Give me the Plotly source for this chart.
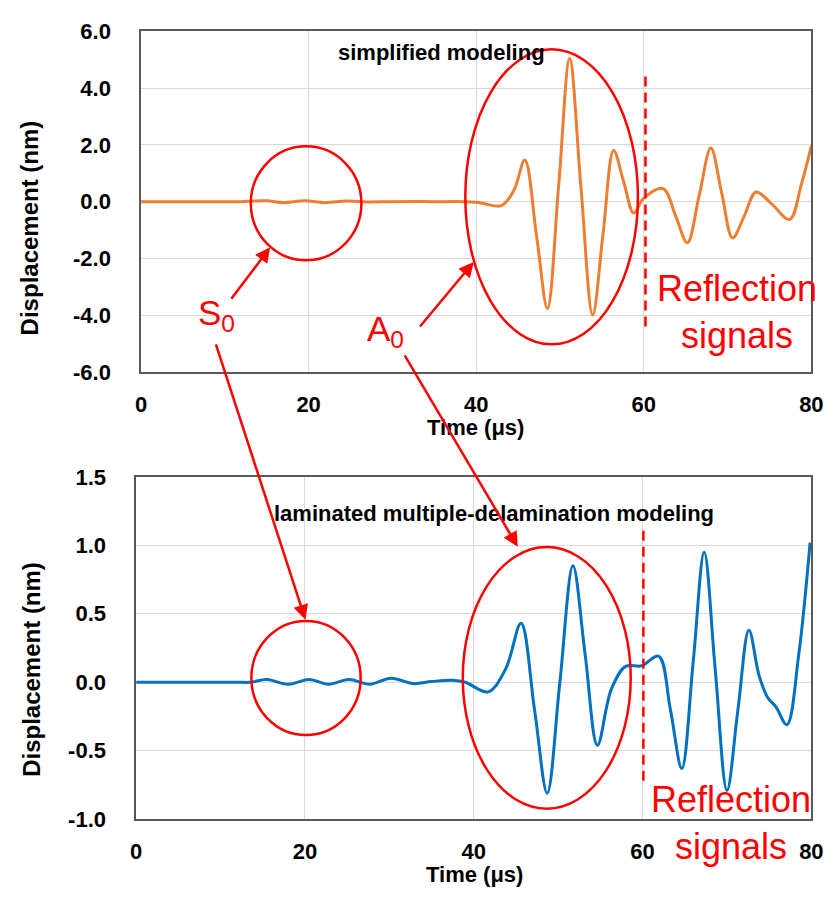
import plotly.graph_objects as go

# ---------------- data ----------------
time_simplified = [0, 12, 15, 17, 19.5, 22, 24.5, 27, 30, 35, 40, 43.0, 44.5, 45.8, 47.2, 48.5,
                   49.85, 51.15, 52.5, 53.9, 55.15, 56.4, 57.6, 58.8, 60.0, 62.3, 63.8, 65.2,
                   66.6, 68.0, 69.3, 70.6, 72.0, 73.4, 75.2, 77.4, 78.8, 80]
disp_simplified = [0, 0, 0.03, -0.03, 0.03, -0.03, 0.02, -0.01, 0, 0, -0.02, -0.14, 0.4, 1.47, -1.2, -3.77,
                   0.6, 5.05, 0.5, -4.0, -1.1, 1.8, 0.7, -0.4, 0.12, 0.46, -0.5, -1.45,
                   0.2, 1.89, 0.3, -1.28, -0.5, 0.34, -0.06, -0.63, 0.6, 1.98]

time_laminated = [0, 12, 13.5, 15.5, 18, 20.5, 22.8, 25.2, 27.7, 30.2, 32.8, 35, 37.5, 39, 41.7,
                  43.8, 45.6, 47.2, 48.7, 50.2, 51.75, 53.2, 54.65, 56.3, 58.0, 59.9, 61.9, 63.3,
                  64.65, 66.0, 67.3, 68.6, 70.0, 71.3, 72.6, 73.8, 74.8, 75.8, 77.1, 78.5, 79.85]
disp_laminated = [0, 0, 0.0, 0.02, -0.015, 0.02, -0.015, 0.02, -0.015, 0.03, -0.01, 0.005, 0.015, 0.0, -0.07,
                  0.1, 0.43, -0.2, -0.81, 0.0, 0.85, 0.2, -0.46, -0.05, 0.116, 0.12, 0.19, -0.2,
                  -0.63, 0.15, 0.95, 0.1, -0.79, -0.2, 0.38, 0.05, -0.11, -0.18, -0.31, 0.2, 1.02]

x_ticks = [0, 20, 40, 60, 80]
x_ticktext = ["0", "20", "40", "60", "80"]
y1_ticks = [-6, -4, -2, 0, 2, 4, 6]
y1_ticktext = ["-6.0", "-4.0", "-2.0", "0.0", "2.0", "4.0", "6.0"]
y2_ticks = [-1.0, -0.5, 0.0, 0.5, 1.0, 1.5]
y2_ticktext = ["-1.0", "-0.5", "0.0", "0.5", "1.0", "1.5"]

top_title = "simplified modeling"
bottom_title = "laminated multiple-delamination modeling"
y_title = "Displacement (nm)"
x_title = "Time (μs)"

# ---------------- layout helpers ----------------
W, H = 840, 909
FONT = "Liberation Sans, Arial, sans-serif"
RED = "#FF0000"


def px(x):
    return x / W


def py(y):
    return 1 - y / H


fig = go.Figure()
fig.add_trace(go.Scatter(x=time_simplified, y=disp_simplified, mode="lines",
                         line=dict(color="#ED7D31", width=3, shape="spline", smoothing=1.0),
                         xaxis="x", yaxis="y", hoverinfo="skip"))
fig.add_trace(go.Scatter(x=time_laminated, y=disp_laminated, mode="lines",
                         line=dict(color="#0070C0", width=3, shape="spline", smoothing=1.0),
                         xaxis="x2", yaxis="y2", hoverinfo="skip"))

axis_common = dict(showgrid=True, gridcolor="#D9D9D9", gridwidth=1, zeroline=False,
                   showline=True, mirror=True, linecolor="#595959", linewidth=1.5,
                   ticks="", tickfont=dict(family=FONT, size=22, color="#000000", weight="bold"))

fig.update_layout(
    width=W, height=H, margin=dict(l=0, r=0, t=0, b=0),
    paper_bgcolor="white", plot_bgcolor="white", showlegend=False,
    xaxis=dict(domain=[px(138), px(823)], range=[0, 80], anchor="y",
               tickvals=x_ticks, ticktext=x_ticktext, ticklabelstandoff=12, **axis_common),
    yaxis=dict(domain=[py(370), py(20)], range=[-6, 6], anchor="x",
               tickvals=y1_ticks, ticktext=y1_ticktext, ticklabelstandoff=24, **axis_common),
    xaxis2=dict(domain=[px(133), px(823)], range=[0, 80], anchor="y2",
                tickvals=x_ticks, ticktext=x_ticktext, ticklabelstandoff=12, **axis_common),
    yaxis2=dict(domain=[py(830), py(478)], range=[-1, 1.5], anchor="x2",
                tickvals=y2_ticks, ticktext=y2_ticktext, ticklabelstandoff=24, **axis_common),
)

# ---------------- shapes: ellipses and dashed lines ----------------
ell = dict(type="circle", line=dict(color=RED, width=2.5), fillcolor="rgba(0,0,0,0)", layer="above")
fig.add_shape(xref="x", yref="y", x0=13.1, x1=26.3, y0=-2.07, y1=1.95, **ell)
fig.add_shape(xref="x", yref="y", x0=38.7, x1=59.3, y0=-5.03, y1=5.37, **ell)
fig.add_shape(xref="x2", yref="y2", x0=13.65, x1=26.6, y0=-0.386, y1=0.447, **ell)
fig.add_shape(xref="x2", yref="y2", x0=38.7, x1=58.6, y0=-0.923, y1=0.987, **ell)

dl = dict(type="line", line=dict(color=RED, width=2.5, dash="10px,6px"), layer="above")
fig.add_shape(xref="x", yref="y", x0=60.2, x1=60.2, y0=-4.4, y1=4.46, **dl)
fig.add_shape(xref="x2", yref="y2", x0=60.1, x1=60.1, y0=-0.72, y1=1.13, **dl)

# ---------------- text annotations ----------------
bold = lambda s: dict(family=FONT, size=s, color="#000000", weight="bold")
red = lambda s: dict(family=FONT, size=s, color=RED)

ann = []
ann.append(dict(text=top_title, x=px(445), y=py(42), font=bold(22)))
ann.append(dict(text=bottom_title, x=px(499), y=py(516), font=bold(22)))
ann.append(dict(text=y_title, x=px(24), y=py(222), textangle=-90, font=bold(24)))
ann.append(dict(text=y_title, x=px(26), y=py(676), textangle=-90, font=bold(24)))
ann.append(dict(text=x_title, x=px(480), y=py(427), font=bold(22)))
ann.append(dict(text=x_title, x=px(479), y=py(887), font=bold(22)))
ann.append(dict(text="S<sub>0</sub>", x=px(215), y=py(312), font=red(35)))
ann.append(dict(text="A<sub>0</sub>", x=px(388), y=py(328), font=red(35)))
ann.append(dict(text="Reflection<br>signals", x=px(747), y=py(308), font=red(36), align="center"))
ann.append(dict(text="Reflection<br>signals", x=px(741), y=py(834), font=red(36), align="center"))
for a in ann:
    fig.add_annotation(xref="paper", yref="paper", showarrow=False,
                       xanchor="center", yanchor="middle", **a)

# arrows: (head_x, head_y, tail_x, tail_y) in page pixels
arrows = [(270, 242, 230, 295), (478, 257, 423, 323), (306, 625, 216, 348), (523, 550, 409, 357)]
for hx, hy, tx, ty in arrows:
    fig.add_annotation(xref="paper", yref="paper", x=px(hx), y=py(hy), ax=tx - hx, ay=ty - hy,
                       axref="pixel", ayref="pixel", text="", showarrow=True,
                       arrowhead=2, arrowsize=1.2, arrowwidth=2.5, arrowcolor=RED, standoff=0)

fig.write_html("out.html",
               post_script="document.body.style.margin='0';document.body.style.overflow='hidden';")
